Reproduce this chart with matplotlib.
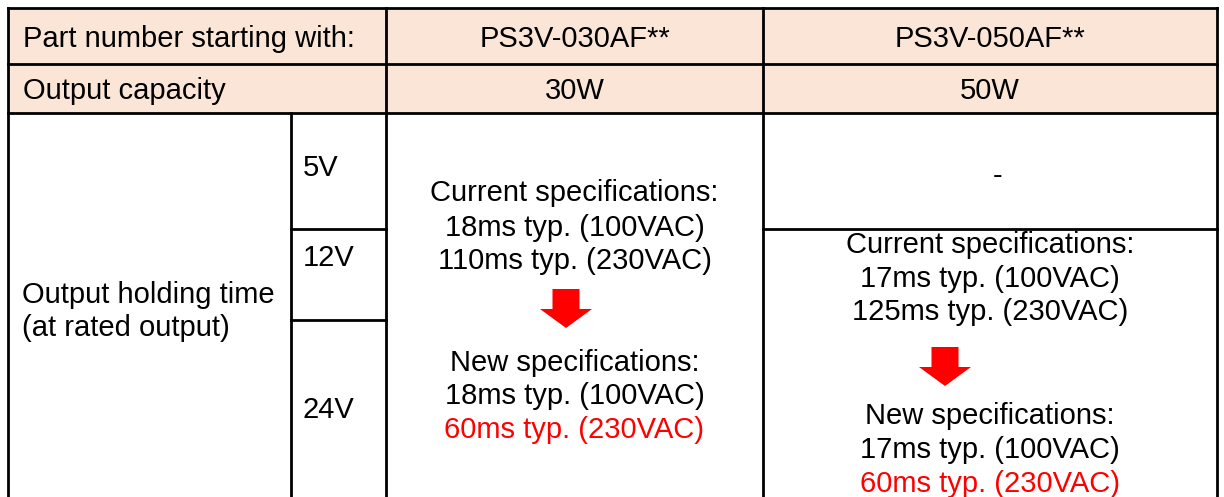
import matplotlib.pyplot as plt
from matplotlib.patches import Rectangle, FancyArrow

plt.rcParams['font.family'] = ['Liberation Sans', 'DejaVu Sans']

# table contents
row_labels = ['Part number starting with:', 'Output capacity']
models = ['PS3V-030AF**', 'PS3V-050AF**']
capacities = ['30W', '50W']
holding_label = ['Output holding time', '(at rated output)']
voltages = ['5V', '12V', '24V']
current_30 = ['Current specifications:', '18ms typ. (100VAC)', '110ms typ. (230VAC)']
new_30 = ['New specifications:', '18ms typ. (100VAC)', '60ms typ. (230VAC)']
current_50 = ['Current specifications:', '17ms typ. (100VAC)', '125ms typ. (230VAC)']
new_50 = ['New specifications:', '17ms typ. (100VAC)', '60ms typ. (230VAC)']
na_50_5v = '-'

W, H = 1224, 497
fig = plt.figure(figsize=(W / 100, H / 100), dpi=100)
ax = fig.add_axes([0, 0, 1, 1])
ax.set_xlim(0, W)
ax.set_ylim(H, 0)
ax.axis('off')

fs = 21
head_bg = '#FBE5D6'
red = '#FF0000'
dy = 3  # small offset so glyphs sit like in the original

# grid positions (pixels)
x0, xv, x1, x2, x3 = 8, 291, 386, 763, 1217
y0, y1, y2, y5v, y12v = 8, 64, 113, 229, 320

ax.add_patch(Rectangle((x0, y0), x3 - x0, y2 - y0, color=head_bg, lw=0))

lw = 2.0
def hline(y, xa, xb):
    ax.plot([xa, xb], [y, y], color='black', lw=lw, solid_capstyle='projecting')

def vline(x, ya, yb):
    ax.plot([x, x], [ya, yb], color='black', lw=lw, solid_capstyle='projecting')

hline(y0, x0, x3)
hline(y1, x0, x3)
hline(y2, x0, x3)
hline(y5v, xv, x1)
hline(y5v, x2, x3)
hline(y12v, xv, x1)
vline(x0, y0, H + 5)
vline(xv, y2, H + 5)
vline(x1, y0, H + 5)
vline(x2, y0, H + 5)
vline(x3, y0, H + 5)

# header rows
ax.text(23, 36 + dy, row_labels[0], fontsize=fs, va='center', ha='left')
ax.text(23, 88 + dy, row_labels[1], fontsize=fs, va='center', ha='left')
cx = [(x1 + x2) / 2, (x2 + x3) / 2]
for i in range(2):
    ax.text(cx[i], 36 + dy, models[i], fontsize=fs, va='center', ha='center')
    ax.text(cx[i], 88 + dy, capacities[i], fontsize=fs, va='center', ha='center')

ax.text(22, 292 + dy, holding_label[0], fontsize=fs, va='center', ha='left')
ax.text(22, 325 + dy, holding_label[1], fontsize=fs, va='center', ha='left')

for v, y in zip(voltages, [165, 255, 407]):
    ax.text(303, y + dy, v, fontsize=fs, va='center', ha='left')

def block(x, ys, lines, last_red=False):
    for k, (y, t) in enumerate(zip(ys, lines)):
        c = red if (last_red and k == 2) else 'black'
        ax.text(x, y + dy, t, fontsize=fs, va='center', ha='center', color=c)

def arrow(x, ytop, ytip):
    ax.add_patch(FancyArrow(x, ytop, 0, ytip - ytop, width=27, head_width=52,
                            head_length=19, length_includes_head=True,
                            color=red, lw=0))

block(cx[0], [190, 225, 258], current_30)
arrow(566, 289, 328)
block(cx[0], [360, 393, 427], new_30, last_red=True)

ax.text(998, 174 + 2, na_50_5v, fontsize=fs, va='center', ha='center')
block(cx[1], [242, 276, 309], current_50)
arrow(945, 347, 386)
block(cx[1], [413, 447, 481], new_50, last_red=True)

fig.savefig('out.png', dpi=100)
